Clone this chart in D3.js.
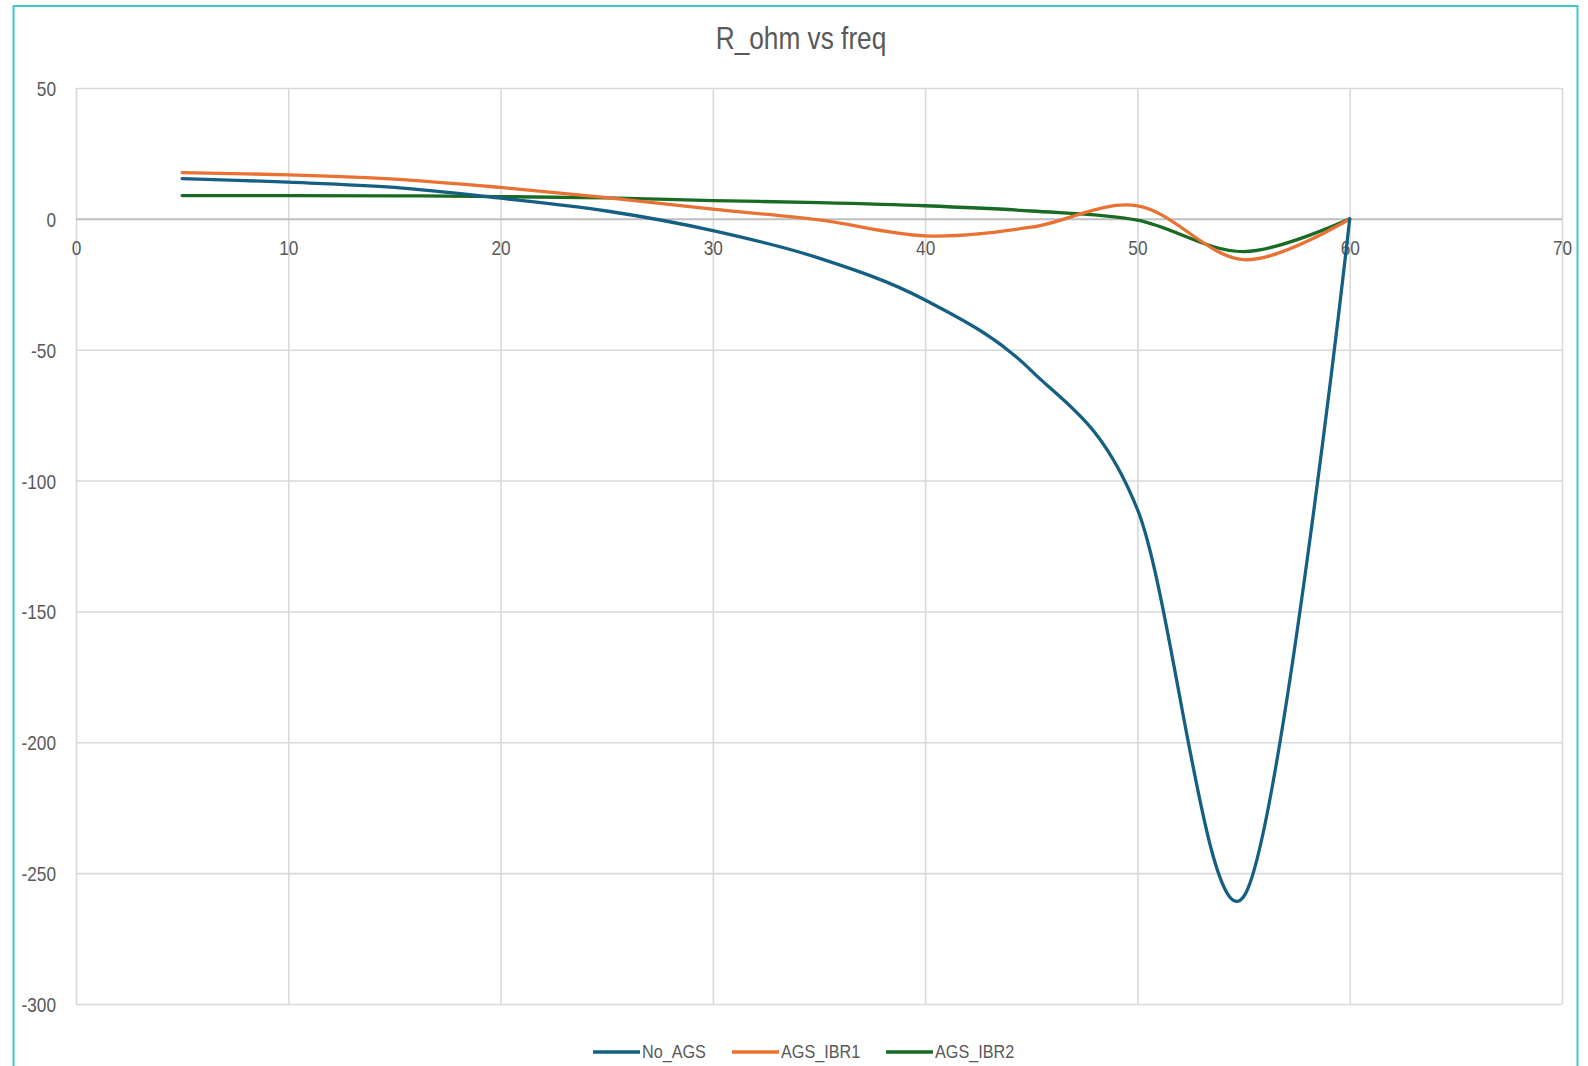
<!DOCTYPE html>
<html>
<head>
<meta charset="utf-8">
<script src="https://cdn.jsdelivr.net/npm/d3@7"></script>
<style>
  html, body { margin: 0; padding: 0; background: #ffffff; }
  svg { display: block; }
  .lbl { font-family: "Liberation Sans", Arial, sans-serif; fill: #595959; }
</style>
</head>
<body>
<svg id="chart" width="1588" height="1066"></svg>
<script>
// Frequency sweep points
const freq = [5, 10, 15, 20, 25, 30, 35, 40, 45, 50, 55, 60];
// Resistance (ohm) per configuration
const noAgs   = [15.4, 14.0, 12.0, 7.9, 3.0, -4.5, -15, -31, -58, -111, -259, 0];
const agsIbr1 = [17.7, 16.8, 15.2, 12.0, 8.1, 3.7, -0.4, -6.5, -3.2, 5.0, -15.6, 0];
const agsIbr2 = [8.9, 8.9, 8.8, 8.5, 8.0, 7.0, 6.2, 5.0, 3.0, -0.5, -12.5, 0];
const seriesNames = ["No_AGS", "AGS_IBR1", "AGS_IBR2"];
const seriesColors = ["#156082", "#E97132", "#196B24"];
const xTicks = [0, 10, 20, 30, 40, 50, 60, 70];
const yTicks = [50, 0, -50, -100, -150, -200, -250, -300];
const chartTitle = "R_ohm vs freq";

const svg = d3.select("#chart");
const W = 1588, H = 1066;
const plot = { left: 76, right: 1562, top: 88, bottom: 1004 };

// Condense text horizontally to a narrow face
function narrow(sel, factor) {
  sel.each(function () {
    const len = this.getComputedTextLength();
    d3.select(this).attr("textLength", len * factor).attr("lengthAdjust", "spacingAndGlyphs");
  });
}
// Plain hyphen for negatives
const fmt = d => String(d);

// Chart frame
svg.append("rect")
  .attr("x", 0).attr("y", 0).attr("width", W).attr("height", H)
  .attr("fill", "#ffffff");
svg.append("rect")
  .attr("x", 13.5).attr("y", 6).attr("width", 1564).attr("height", 1080)
  .attr("fill", "none").attr("stroke", "#3ec8c6").attr("stroke-width", 2);

const x = d3.scaleLinear().domain([0, 70]).range([plot.left, plot.right]);
const y = d3.scaleLinear().domain([-300, 50]).range([plot.bottom, plot.top]);

// Gridlines
const grid = svg.append("g");
grid.append("g")
  .attr("transform", `translate(0,${plot.bottom})`)
  .call(d3.axisBottom(x).tickValues(xTicks).tickSize(-(plot.bottom - plot.top)).tickFormat(""))
  .call(g => g.select(".domain").remove())
  .call(g => g.selectAll("line").attr("stroke", "#d9d9d9").attr("stroke-width", 1.6));
grid.append("g")
  .attr("transform", `translate(${plot.left},0)`)
  .call(d3.axisLeft(y).tickValues(yTicks).tickSize(-(plot.right - plot.left)).tickFormat(""))
  .call(g => g.select(".domain").remove())
  .call(g => g.selectAll("line").attr("stroke", d => d === 0 ? "#bfbfbf" : "#d9d9d9")
                                 .attr("stroke-width", d => d === 0 ? 2 : 1.6));

// Y tick labels
svg.append("g")
  .attr("transform", `translate(${plot.left},0)`)
  .call(d3.axisLeft(y).tickValues(yTicks).tickSize(0).tickPadding(20).tickFormat(fmt))
  .call(g => g.select(".domain").remove())
  .call(g => g.selectAll("text").attr("class", "lbl").attr("font-size", 21).attr("dy", "0.36em")
                                .attr("fill", "#595959"))
  .call(g => narrow(g.selectAll("text"), 0.82));

// X tick labels sit along the zero line
svg.append("g")
  .attr("transform", `translate(0,${y(0)})`)
  .call(d3.axisBottom(x).tickValues(xTicks).tickSize(0).tickPadding(21).tickFormat(fmt))
  .call(g => g.select(".domain").remove())
  .call(g => g.selectAll("text").attr("class", "lbl").attr("font-size", 21).attr("fill", "#595959"))
  .call(g => narrow(g.selectAll("text"), 0.82));

// Series lines
const seriesValues = [noAgs, agsIbr1, agsIbr2];
const line = d3.line()
  .x(d => x(d[0]))
  .y(d => y(d[1]))
  .curve(d3.curveCardinal.tension(0));

const lines = svg.append("g");
[2, 1, 0].forEach(i => {
  lines.append("path")
    .datum(freq.map((f, k) => [f, seriesValues[i][k]]))
    .attr("d", line)
    .attr("fill", "none")
    .attr("stroke", seriesColors[i])
    .attr("stroke-width", 3.3)
    .attr("stroke-linejoin", "round")
    .attr("stroke-linecap", "round");
});

// Title
svg.append("text")
  .attr("class", "lbl")
  .attr("x", 801).attr("y", 49)
  .attr("text-anchor", "middle")
  .attr("font-size", 32)
  .text(chartTitle)
  .call(t => narrow(t, 0.82));

// Legend
const legendX = [593, 732, 886];
const legend = svg.append("g");
seriesNames.forEach((name, i) => {
  const g = legend.append("g").attr("transform", `translate(${legendX[i]},1052)`);
  g.append("line")
    .attr("x1", 0).attr("x2", 47).attr("y1", 0).attr("y2", 0)
    .attr("stroke", seriesColors[i]).attr("stroke-width", 3.3);
  g.append("text")
    .attr("class", "lbl")
    .attr("x", 49).attr("y", 6)
    .attr("font-size", 18)
    .text(name)
    .call(t => narrow(t, 0.9));
});
</script>
</body>
</html>
